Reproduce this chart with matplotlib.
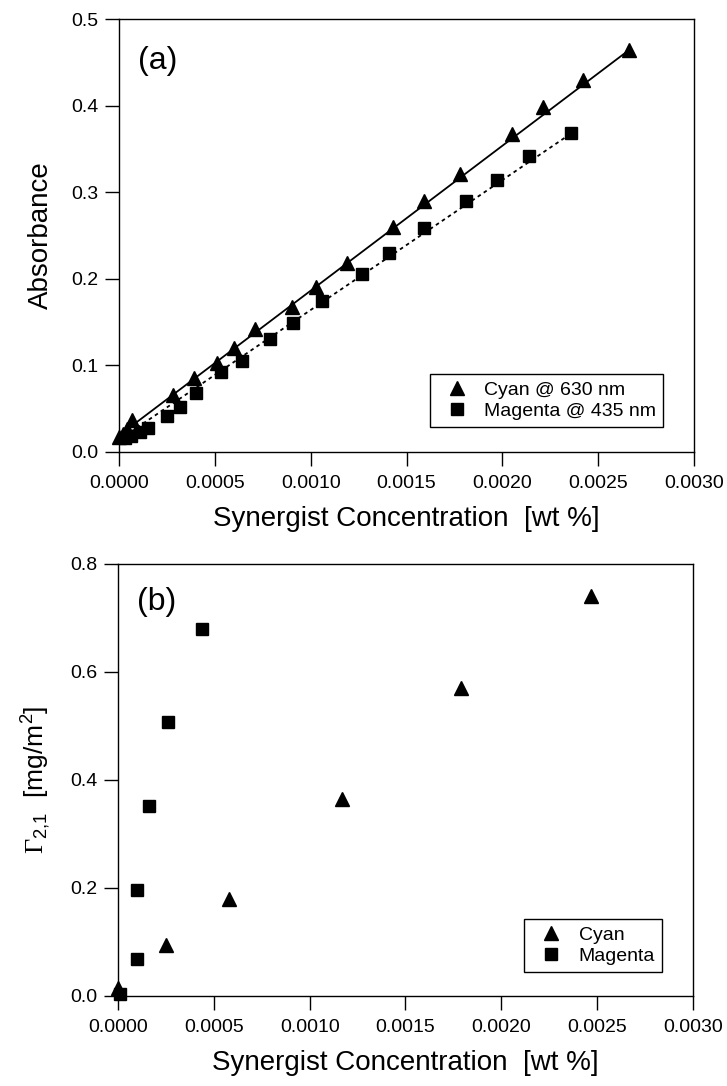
import matplotlib
matplotlib.use('Agg')
import matplotlib.pyplot as plt
import numpy as np

plt.rcParams['font.family'] = ['Liberation Sans', 'DejaVu Sans']
plt.rcParams['mathtext.fontset'] = 'custom'
plt.rcParams['mathtext.rm'] = 'Liberation Sans'
plt.rcParams['mathtext.it'] = 'Liberation Sans:italic'
plt.rcParams['mathtext.tt'] = 'Liberation Serif'

# panel (a): absorbance vs concentration
cyan_x = [0.00000, 0.00002, 0.00004, 0.00007, 0.00028, 0.00039, 0.00051, 0.00060,
          0.00071, 0.00090, 0.00103, 0.00119, 0.00143, 0.00159, 0.00178, 0.00205,
          0.00221, 0.00242, 0.00266]
cyan_abs = [0.017, 0.021, 0.026, 0.037, 0.066, 0.086, 0.103, 0.120,
            0.142, 0.168, 0.190, 0.218, 0.260, 0.290, 0.321, 0.367,
            0.398, 0.430, 0.464]
mag_x = [0.00003, 0.00006, 0.00011, 0.00015, 0.00025, 0.00032, 0.00040, 0.00053,
         0.00064, 0.00079, 0.00091, 0.00106, 0.00127, 0.00141, 0.00159, 0.00181,
         0.00197, 0.00214, 0.00236]
mag_abs = [0.016, 0.018, 0.023, 0.028, 0.041, 0.052, 0.068, 0.092,
           0.105, 0.131, 0.149, 0.174, 0.206, 0.230, 0.259, 0.290,
           0.314, 0.342, 0.368]
# fitted lines (end points)
cyan_fit_x = [0.0, 0.00266]
cyan_fit_y = [0.019, 0.464]
mag_fit_x = [0.0, 0.00236]
mag_fit_y = [0.014, 0.368]

# panel (b): surface excess
cyan_bx = [0.00000, 0.00025, 0.00058, 0.00117, 0.00179, 0.00247]
cyan_gamma = [0.015, 0.094, 0.180, 0.365, 0.570, 0.741]
mag_bx = [0.00001, 0.00010, 0.00010, 0.00016, 0.00026, 0.00044]
mag_gamma = [0.003, 0.068, 0.196, 0.352, 0.508, 0.680]

xticks = np.arange(0, 0.00301, 0.0005)

fig = plt.figure(figsize=(7.27, 10.86), dpi=100)
ax1 = fig.add_axes([0.1637, 0.5838, 0.7909, 0.3987])
ax2 = fig.add_axes([0.1623, 0.0829, 0.7909, 0.3978])

legopts = dict(loc='lower right', borderaxespad=0, fontsize=14, fancybox=False,
               framealpha=1, edgecolor='black', handletextpad=0.36, borderpad=0.35,
               labelspacing=0.19, handlelength=2.1)

for ax in (ax1, ax2):
    for s in ax.spines.values():
        s.set_linewidth(1.0)
    ax.tick_params(direction='out', length=10, width=1.0, labelsize=14,
                   top=False, right=False)
    ax.tick_params(axis='x', pad=6.5)
    ax.tick_params(axis='y', pad=5)
    ax.set_xlim(0, 0.003)
    ax.set_xticks(xticks)
    ax.set_xticklabels(['%.4f' % v for v in xticks])
    ax.set_xlabel('Synergist Concentration  [wt %]', fontsize=20, labelpad=10)

ax1.plot(cyan_fit_x, cyan_fit_y, '-', color='black', lw=1.3)
ax1.plot(mag_fit_x, mag_fit_y, linestyle=(0, (2, 2)), color='black', lw=1.3)
ax1.plot(cyan_x, cyan_abs, '^', color='black', ms=10.5, label='Cyan @ 630 nm', clip_on=False)
ax1.plot(mag_x, mag_abs, 's', color='black', ms=8.5, label='Magenta @ 435 nm', clip_on=False)
ax1.set_ylim(0, 0.5)
ax1.set_yticks(np.arange(0, 0.51, 0.1))
ax1.set_yticklabels(['%.1f' % v for v in np.arange(0, 0.51, 0.1)])
ax1.set_ylabel('Absorbance', fontsize=20, labelpad=12)
ax1.text(0.033, 0.903, '(a)', transform=ax1.transAxes, fontsize=23, va='center', ha='left')
leg1 = ax1.legend(bbox_to_anchor=(0.946, 0.058), **legopts)
leg1.get_frame().set_linewidth(1.0)

ax2.plot(cyan_bx, cyan_gamma, '^', color='black', ms=10.5, label='Cyan', clip_on=False)
ax2.plot(mag_bx, mag_gamma, 's', color='black', ms=8.5, label='Magenta', clip_on=False)
ax2.set_ylim(0, 0.8)
ax2.set_yticks(np.arange(0, 0.81, 0.2))
ax2.set_yticklabels(['%.1f' % v for v in np.arange(0, 0.81, 0.2)])
ax2.set_ylabel(r'$\mathtt{\Gamma}_{2{,}1}$  [mg/m$^2$]', fontsize=19, labelpad=12)
ax2.text(0.033, 0.912, '(b)', transform=ax2.transAxes, fontsize=23, va='center', ha='left')
leg2 = ax2.legend(bbox_to_anchor=(0.946, 0.056), **legopts)
leg2.get_frame().set_linewidth(1.0)

fig.savefig('out.png', dpi=100)
